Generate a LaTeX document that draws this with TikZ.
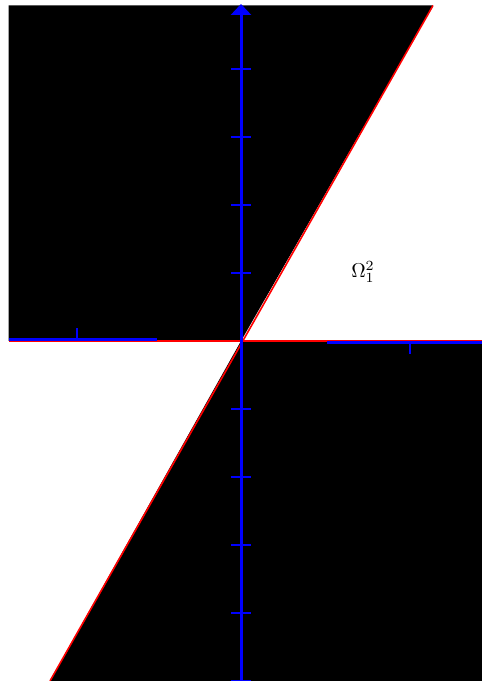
\documentclass[tikz,border=0pt]{standalone}
\usepackage{amsmath,amssymb}
\usepackage{xcolor}
\usetikzlibrary{arrows.meta, positioning, calc}

\begin{document}
\begin{tikzpicture}[
    x=0.5pt, y=0.5pt,
    region/.style={fill=black, draw=none},
    border/.style={draw=red, line width=0.8pt},
    axis/.style={draw=blue, line width=1.5pt},
    tick/.style={draw=blue, line width=1pt},
    arrow/.style={-{Triangle[width=10pt, length=5.5pt]}, line width=1.5pt, draw=blue}
]
\useasboundingbox (0,0) rectangle (482,681);

\coordinate (O) at (241,340);
\coordinate (topleft) at (8.5,675.5);
\coordinate (topcut) at (433,675.5);
\coordinate (leftend) at (8.5,340);
\coordinate (rightend) at (482,340);
\coordinate (botright) at (482,0);
\coordinate (botcut) at (50,0);

% the two dark regions
\fill[region] (topleft) -- (topcut) -- (O) -- (leftend) -- cycle;
\fill[region] (O) -- (rightend) -- (botright) -- (botcut) -- cycle;

% boundary lines
\draw[border] (botcut) -- (topcut);
\draw[border] (leftend) -- (rightend);

% axes
\draw[axis] (8.5,341.5) -- (157,341.5);
\draw[axis] (327,338.5) -- (482,338.5);
\draw[arrow] (241,0) -- (241,677);

% ticks
\foreach \k in {-5,...,-1,1,2,3,4}
    \draw[tick] (231,{340+68*\k}) -- (251,{340+68*\k});
\draw[tick] (77,341) -- (77,353);
\draw[tick] (410,339) -- (410,327);

\node (omega) at (363,409) {$\Omega_1^2$};

\end{tikzpicture}
\end{document}
